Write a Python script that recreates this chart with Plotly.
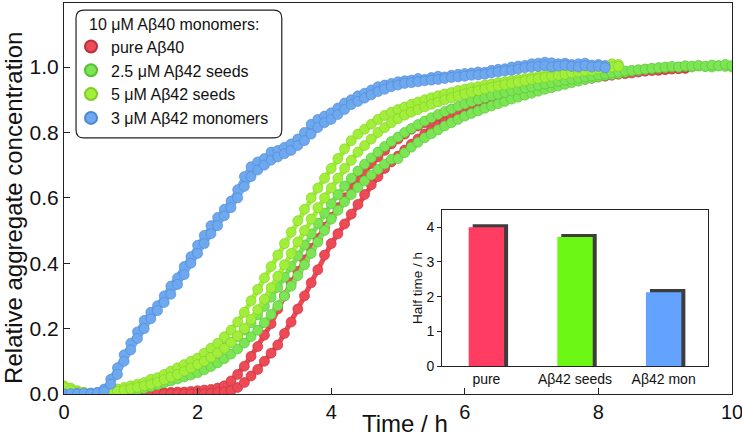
import plotly.graph_objects as go

# ---------------- data ----------------
# sampling grid of the kinetic measurements (h)
time_h = [round(0.1 * i, 1) for i in range(101)]

pure_ab40_rep1 = [
    0, 0, 0, 0, 0, 0, 0, 0, 0, 0,
    0, 0, 0, 0.002, 0.003, 0.004, 0.005, 0.006, 0.006, 0.008,
    0.01, 0.012, 0.014, 0.018, 0.025, 0.04, 0.06, 0.085, 0.115, 0.145,
    0.18, 0.215, 0.26, 0.3, 0.34, 0.375, 0.41, 0.445, 0.475, 0.51,
    0.54, 0.57, 0.6, 0.63, 0.655, 0.68, 0.705, 0.725, 0.745, 0.765,
    0.78, 0.795, 0.81, 0.82, 0.83, 0.84, 0.85, 0.86, 0.87, 0.875,
    0.885, 0.89, 0.9, 0.905, 0.91, 0.915, 0.92, 0.925, 0.93, 0.935,
    0.94, 0.945, 0.948, 0.952, 0.955, 0.96, 0.962, 0.965, 0.968, 0.97,
    0.972, 0.975, 0.978, 0.98, 0.982, 0.984, 0.986, 0.988, 0.99, 0.99,
    0.992, 0.994, 0.995, 0.996,
]
pure_ab40_rep2 = [
    0, 0, 0, 0, 0, 0, 0, 0, 0, 0,
    0, 0, 0, 0, 0, 0, 0, 0, 0, 0,
    0, 0, 0.002, 0.004, 0.006, 0.01, 0.02, 0.035, 0.055, 0.075,
    0.1, 0.125, 0.15, 0.185, 0.22, 0.26, 0.3, 0.34, 0.38, 0.425,
    0.46, 0.49, 0.52, 0.55, 0.58, 0.61, 0.64, 0.665, 0.69, 0.71,
    0.728, 0.746, 0.764, 0.78, 0.795, 0.808, 0.82, 0.832, 0.843, 0.853,
    0.862, 0.87, 0.878, 0.886, 0.893, 0.9, 0.906, 0.912, 0.918, 0.923,
    0.928, 0.933, 0.938, 0.943, 0.948, 0.952, 0.956, 0.96, 0.963, 0.966,
    0.97, 0.972, 0.975, 0.978, 0.98, 0.982, 0.985, 0.988, 0.99, 0.992,
    0.994, 0.995, 0.996, 0.998,
]
seeds25_rep1 = [
    0.02, 0.015, 0.008, 0.004, 0, 0, 0, 0.002, 0.004, 0.007,
    0.01, 0.013, 0.017, 0.022, 0.028, 0.034, 0.04, 0.046, 0.052, 0.058,
    0.065, 0.074, 0.084, 0.095, 0.108, 0.122, 0.138, 0.156, 0.175, 0.195,
    0.218, 0.243, 0.27, 0.3, 0.33, 0.362, 0.395, 0.43, 0.465, 0.5,
    0.535, 0.562, 0.588, 0.61, 0.632, 0.652, 0.67, 0.687, 0.703, 0.718,
    0.72, 0.738, 0.755, 0.77, 0.784, 0.796, 0.808, 0.82, 0.83, 0.84,
    0.85, 0.858, 0.866, 0.874, 0.881, 0.888, 0.895, 0.902, 0.908, 0.914,
    0.92, 0.926, 0.932, 0.937, 0.942, 0.947, 0.952, 0.957, 0.962, 0.966,
    0.97, 0.974, 0.977, 0.98, 0.984, 0.987, 0.99, 0.993, 0.995, 0.997,
    0.998, 1.0, 1.0, 1.002, 1.0, 1.003, 1.002, 1.0, 1.004, 1.002, 1.0,
]
seeds25_rep2 = [
    0.015, 0.01, 0.005, 0, 0, 0, 0.002, 0.006, 0.01, 0.014,
    0.018, 0.022, 0.027, 0.033, 0.04, 0.047, 0.055, 0.063, 0.072, 0.082,
    0.092, 0.103, 0.115, 0.128, 0.142, 0.158, 0.176, 0.196, 0.218, 0.242,
    0.268, 0.296, 0.326, 0.357, 0.39, 0.423, 0.456, 0.49, 0.522, 0.553,
    0.582, 0.61, 0.636, 0.66, 0.682, 0.703, 0.722, 0.74, 0.757, 0.772,
    0.786, 0.8, 0.812, 0.824, 0.835, 0.845, 0.855, 0.864, 0.872, 0.88,
    0.887, 0.894, 0.9, 0.906, 0.912, 0.917, 0.922, 0.927, 0.932, 0.936,
    0.94, 0.944, 0.948, 0.952, 0.956, 0.96, 0.963, 0.966, 0.97, 0.973,
    0.976, 0.979, 0.982, 0.985, 0.988, 0.99, 0.992, 0.994, 0.996, 0.998,
    1.0, 1.002, 1.0, 1.004, 1.003, 1.005, 1.002, 1.006, 1.004, 1.008, 1.005,
]
seeds5_rep1 = [
    0.025, 0.018, 0.01, 0.005, 0.002, 0.0, 0.002, 0.01, 0.015, 0.02,
    0.025, 0.03, 0.035, 0.045, 0.05, 0.06, 0.07, 0.08, 0.09, 0.1,
    0.11, 0.125, 0.14, 0.155, 0.175, 0.195, 0.22, 0.25, 0.285, 0.32,
    0.355, 0.39, 0.425, 0.46, 0.495, 0.53, 0.565, 0.6, 0.63, 0.66,
    0.69, 0.72, 0.75, 0.775, 0.795, 0.81, 0.825, 0.84, 0.852, 0.862,
    0.87, 0.878, 0.886, 0.893, 0.9, 0.906, 0.912, 0.918, 0.922, 0.928,
    0.932, 0.937, 0.94, 0.945, 0.948, 0.952, 0.955, 0.958, 0.962, 0.965,
    0.968, 0.972, 0.975, 0.978, 0.98, 0.985, 0.988, 0.99, 0.995, 0.998,
    1.0, 1.005, 1.01, 1.008,
]
seeds5_rep2 = [
    0.02, 0.012, 0.006, 0.002, 0, 0, 0, 0.005, 0.008, 0.012,
    0.016, 0.02, 0.025, 0.03, 0.036, 0.044, 0.052, 0.06, 0.07, 0.08,
    0.09, 0.1, 0.112, 0.126, 0.14, 0.158, 0.178, 0.2, 0.228, 0.258,
    0.29, 0.325, 0.36, 0.395, 0.43, 0.465, 0.5, 0.535, 0.57, 0.6,
    0.63, 0.66, 0.69, 0.715, 0.74, 0.76, 0.78, 0.8, 0.815, 0.83,
    0.842, 0.853, 0.862, 0.87, 0.878, 0.886, 0.893, 0.9, 0.906, 0.912,
    0.918, 0.923, 0.928, 0.933, 0.938, 0.942, 0.946, 0.95, 0.954, 0.958,
    0.962, 0.965, 0.968, 0.972, 0.975, 0.978, 0.982, 0.985, 0.988, 0.99,
    0.994, 0.998, 1.0, 1.002,
]
mon42_rep1 = [
    0.0, 0.0, 0.002, 0.0, 0.003, 0.005, 0.015, 0.045, 0.08, 0.12,
    0.155, 0.19, 0.225, 0.25, 0.27, 0.3, 0.33, 0.355, 0.39, 0.42,
    0.455, 0.485, 0.515, 0.54, 0.565, 0.59, 0.625, 0.665, 0.695, 0.71,
    0.72, 0.74, 0.745, 0.755, 0.765, 0.78, 0.8, 0.825, 0.84, 0.85,
    0.86, 0.875, 0.89, 0.9, 0.912, 0.92, 0.93, 0.94, 0.945, 0.95,
    0.955, 0.958, 0.96, 0.965, 0.962, 0.968, 0.972, 0.97, 0.975, 0.978,
    0.98, 0.982, 0.985, 0.984, 0.99, 0.993, 0.995, 1.0, 1.003, 1.005,
    1.01, 1.012, 1.015, 1.013, 1.01, 1.012, 1.008, 1.01, 1.012, 1.006,
    1.008, 1.004,
]
mon42_rep2 = [
    0.0, 0.001, 0.0, 0.002, 0.0, 0.003, 0.008, 0.03, 0.06, 0.1,
    0.135, 0.17, 0.2, 0.23, 0.255, 0.28, 0.305, 0.335, 0.365, 0.4,
    0.43, 0.46, 0.49, 0.515, 0.545, 0.57, 0.6, 0.635, 0.665, 0.685,
    0.7, 0.715, 0.725, 0.735, 0.745, 0.76, 0.775, 0.795, 0.815, 0.83,
    0.84, 0.855, 0.87, 0.885, 0.895, 0.905, 0.915, 0.925, 0.932, 0.94,
    0.945, 0.95, 0.952, 0.955, 0.958, 0.96, 0.962, 0.965, 0.968, 0.97,
    0.972, 0.975, 0.976, 0.978, 0.982, 0.985, 0.988, 0.99, 0.994, 0.998,
    1.0, 1.002, 1.004, 1.0, 1.003, 1.005, 1.002, 1.0, 1.004, 1.0,
    1.002, 0.998,
]

series_names = ["pure Aβ40", "2.5 μM Aβ42 seeds", "5 μM Aβ42 seeds", "3 μM Aβ42 monomers"]
series_reps = [
    [pure_ab40_rep1, pure_ab40_rep2],
    [seeds25_rep1, seeds25_rep2],
    [seeds5_rep1, seeds5_rep2],
    [mon42_rep1, mon42_rep2],
]
series_fill = ["#EE4A55", "#7BE553", "#A2EF3B", "#6EA8EF"]
series_edge = ["#B8313B", "#58BF38", "#80CB25", "#4D86D2"]

# inset bar chart
inset_categories = ["pure", "Aβ42 seeds", "Aβ42 mon"]
half_time_h = [4.0, 3.72, 2.13]
inset_colors = ["#FF3D62", "#6CF714", "#63A2FF"]

# ---------------- figure ----------------
fig = go.Figure()

for name, reps, fc, ec in zip(series_names, series_reps, series_fill, series_edge):
    for k, vals in enumerate(reps):
        xs = time_h[:len(vals)]
        # connecting band beneath the measured points (no legend entry)
        fig.add_trace(go.Scatter(
            x=xs, y=vals, mode="lines", line=dict(color=fc, width=5),
            showlegend=False, hoverinfo="skip", legendgroup=name,
        ))
        fig.add_trace(go.Scatter(
            x=xs, y=vals, mode="markers", name=name,
            legendgroup=name, showlegend=(k == 0),
            marker=dict(size=10, color=fc, line=dict(color=ec, width=0.6)),
        ))

# inset: shadow bars then bars
fig.add_trace(go.Bar(
    x=inset_categories, y=[v + 0.09 for v in half_time_h], xaxis="x2", yaxis="y2",
    width=0.4, offset=-0.155, marker=dict(color="#3d3d3d", line=dict(width=0)),
    showlegend=False, hoverinfo="skip",
))
fig.add_trace(go.Bar(
    x=inset_categories, y=half_time_h, xaxis="x2", yaxis="y2",
    width=0.4, offset=-0.2, marker=dict(color=inset_colors, line=dict(width=0)),
    showlegend=False,
))

FONT = "Arial, Liberation Sans, Helvetica, sans-serif"

# rounded legend frame (paper coords)
x0, x1, y0, y1 = 0.018, 0.326, 0.655, 0.982
rx, ry = 0.012, 0.0205
path = (f"M {x0+rx},{y1} L {x1-rx},{y1} Q {x1},{y1} {x1},{y1-ry} "
        f"L {x1},{y0+ry} Q {x1},{y0} {x1-rx},{y0} L {x0+rx},{y0} "
        f"Q {x0},{y0} {x0},{y0+ry} L {x0},{y1-ry} Q {x0},{y1} {x0+rx},{y1} Z")

fig.update_layout(
    width=742, height=436,
    margin=dict(l=64, r=10, t=3, b=42),
    paper_bgcolor="white", plot_bgcolor="white",
    font=dict(family=FONT, color="#111"),
    barmode="overlay",
    showlegend=True,
    legend=dict(
        x=0.0105, y=0.932, xanchor="left", yanchor="top",
        bgcolor="rgba(0,0,0,0)", borderwidth=0,
        font=dict(size=16, family=FONT, color="#111"),
        itemsizing="constant", tracegroupgap=0,
    ),
    shapes=[dict(type="path", path=path, xref="paper", yref="paper",
                 line=dict(color="#222", width=1.2), fillcolor="white", layer="above")],
    annotations=[
        dict(text="10 μM Aβ40 monomers:", xref="paper", yref="paper",
             x=(87 - 64) / 668, y=(394 - 24) / 391, xanchor="left", yanchor="middle",
             showarrow=False, font=dict(size=16, family=FONT, color="#111")),
        dict(text="Time / h", xref="paper", yref="paper",
             x=0.51, y=(394 - 423) / 391, xanchor="center", yanchor="middle",
             showarrow=False, font=dict(size=24, family=FONT, color="#111")),
        dict(text="Relative aggregate concentration", xref="paper", yref="paper",
             x=(14 - 64) / 668, y=0.476, xanchor="center", yanchor="middle", textangle=-90,
             showarrow=False, font=dict(size=24, family=FONT, color="#111")),
    ],
    xaxis=dict(
        range=[0, 10], dtick=2, showgrid=False, zeroline=False, automargin=False,
        showline=True, mirror=True, linecolor="#222", linewidth=1.2,
        ticks="inside", ticklen=6, tickcolor="#222", ticklabeloverflow="allow",
        tickfont=dict(size=20),
    ),
    yaxis=dict(
        range=[0, 1.196], dtick=0.2, tickformat=".1f", showgrid=False, zeroline=False,
        automargin=False, ticklabeloverflow="allow",
        showline=True, mirror=True, linecolor="#222", linewidth=1.2,
        ticks="inside", ticklen=6, tickcolor="#222",
        tickfont=dict(size=21),
    ),
    xaxis2=dict(
        domain=[0.566, 0.964], anchor="y2", type="category", automargin=False,
        showline=True, mirror=True, linecolor="#222", linewidth=1.2,
        ticks="", showgrid=False, tickfont=dict(size=14),
    ),
    yaxis2=dict(
        domain=[0.0716, 0.4706], anchor="x2", range=[0, 4.5], dtick=1, automargin=False,
        showline=True, mirror=True, linecolor="#222", linewidth=1.2,
        ticks="outside", ticklen=4, tickcolor="#222", showgrid=False, zeroline=False,
        tickfont=dict(size=14),
        title=dict(text="Half time / h", font=dict(size=13.5), standoff=0),
    ),
)

fig.write_html("out.html", config={"displayModeBar": False},
               post_script="document.body.style.margin='0';")
